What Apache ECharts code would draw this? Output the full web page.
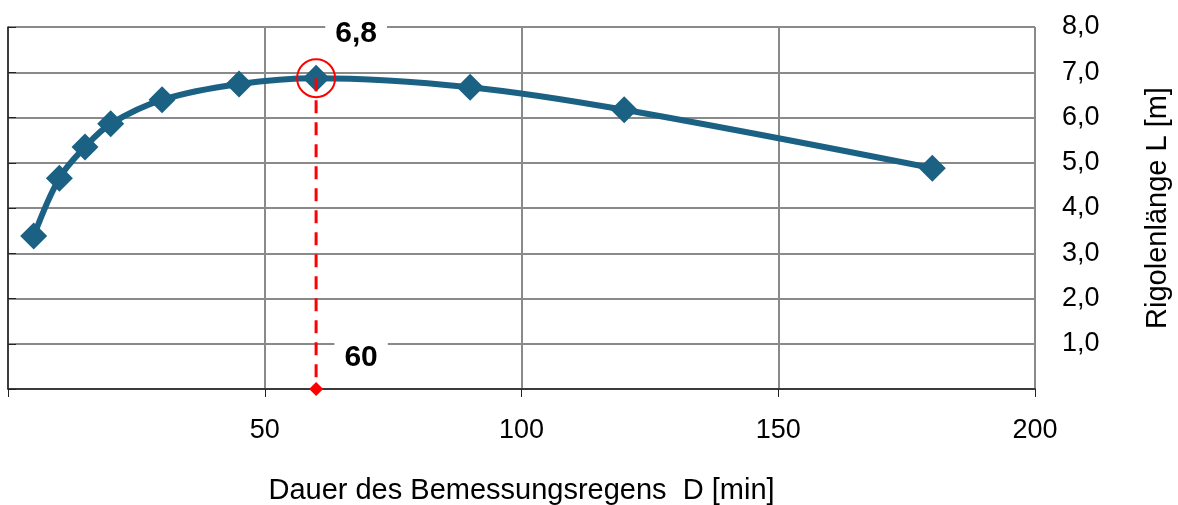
<!DOCTYPE html>
<html>
<head>
<meta charset="utf-8">
<script src="https://cdn.jsdelivr.net/npm/echarts@6/dist/echarts.min.js"></script>
<style>
    html, body { margin: 0; padding: 0; background: #fff; }
    #js-chart { width: 1178px; height: 505px; }
</style>
</head>
<body>
<div id="js-chart"></div>
<script>
// Dauer D [min] und Rigolenlänge L [m]
const durations = [5, 10, 15, 20, 30, 45, 60, 90, 120, 180];
const lengths = [3.38, 4.66, 5.35, 5.86, 6.39, 6.74, 6.87, 6.67, 6.17, 4.88];
// Bemessungspunkt
const peakX = 60;
const peakY = 6.87;
const peakLabel = '6,8';
const durationLabel = '60';

const fmt = function (v) {
    return v === 0 ? '' : v.toFixed(1).replace('.', ',');
};

const chart = echarts.init(document.getElementById('js-chart'));
const option = {
    animation: false,
    textStyle: {fontFamily: 'Liberation Sans, Arial, sans-serif'},
    grid: {left: 8, right: 143, top: 27, bottom: 116, outerBoundsMode: 'none', containLabel: false},
    xAxis: {
        type: 'value',
        min: 0,
        max: 200,
        interval: 50,
        name: 'Dauer des Bemessungsregens  D [min]',
        nameLocation: 'middle',
        nameGap: 87,
        nameTextStyle: {fontSize: 29, color: '#000'},
        axisLine: {show: true, onZero: false, lineStyle: {color: '#222', width: 1.5}},
        axisTick: {show: true, length: 8, lineStyle: {color: '#222'}},
        axisLabel: {
            margin: 28,
            fontSize: 27,
            color: '#000',
            formatter: function (v) { return v === 0 ? '' : v; }
        },
        splitLine: {show: true, lineStyle: {color: '#8a8a8a', width: 2}}
    },
    yAxis: {
        type: 'value',
        position: 'right',
        min: 0,
        max: 8,
        interval: 1,
        name: 'Rigolenlänge L [m]',
        nameLocation: 'middle',
        nameRotate: 90,
        nameGap: 108,
        nameTextStyle: {fontSize: 29, color: '#000'},
        axisLine: {show: true, lineStyle: {color: '#222', width: 1.5}},
        axisTick: {show: true, length: 8, lineStyle: {color: '#222'}},
        axisLabel: {margin: 27, fontSize: 27, color: '#000', formatter: fmt},
        splitLine: {show: true, lineStyle: {color: '#8a8a8a', width: 2}}
    },
    series: [{
        name: 'Rigolenlänge',
        type: 'line',
        data: durations.map(function (d, i) { return [d, lengths[i]]; }),
        smooth: 0.35,
        symbol: 'diamond',
        symbolSize: 27,
        lineStyle: {color: '#1b6184', width: 6},
        itemStyle: {color: '#1b6184'},
        z: 3
    }, {
        name: 'Bemessung',
        type: 'line',
        data: [[peakX, peakY], [peakX, 0]],
        symbol: 'none',
        lineStyle: {color: '#ff0000', width: 3, type: [13, 9]},
        z: 4
    }, {
        name: 'Punkt',
        type: 'scatter',
        data: [[peakX, peakY]],
        symbol: 'circle',
        symbolSize: 38,
        itemStyle: {color: 'rgba(0,0,0,0)', borderColor: '#ff0000', borderWidth: 2, opacity: 1},
        label: {
            show: true,
            position: 'inside',
            offset: [40, -44],
            formatter: peakLabel,
            fontSize: 30,
            fontWeight: 'bold',
            color: '#000',
            backgroundColor: '#fff',
            padding: [2, 10]
        },
        z: 5
    }, {
        name: 'Dauer',
        type: 'scatter',
        data: [[peakX, 0]],
        symbol: 'diamond',
        symbolSize: 14,
        itemStyle: {color: '#ff0000', opacity: 1},
        label: {
            show: true,
            position: 'inside',
            offset: [45, -31],
            formatter: durationLabel,
            fontSize: 30,
            fontWeight: 'bold',
            color: '#000',
            backgroundColor: '#fff',
            padding: [2, 10]
        },
        z: 5
    }]
};
chart.setOption(option);
</script>
</body>
</html>
